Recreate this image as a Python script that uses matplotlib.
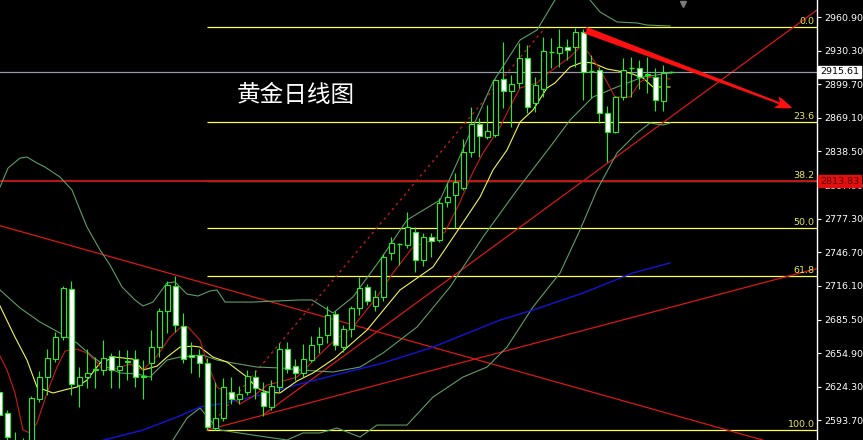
import matplotlib
matplotlib.use('Agg')
import matplotlib.pyplot as plt
import numpy as np

# ---- daily gold candles (index = bar number, prices)
opens = [2619.5, 2600.4, 2564.9, 2566.7, 2570.3, 2613.1, 2633.1, 2649.5, 2669.5, 2713.3,
         2625.8, 2633.1, 2639.5, 2639.5, 2652.2, 2639.5, 2646.8, 2649.5, 2633.1, 2645.9,
         2660.4, 2693.2, 2716.0, 2679.5, 2653.1, 2653.1, 2645.9, 2586.7, 2595.8, 2619.5,
         2613.1, 2619.5, 2633.1, 2619.5, 2605.8, 2624.0, 2658.6, 2643.1, 2636.8, 2648.6,
         2663.2, 2671.3, 2690.5, 2660.4, 2676.8, 2696.0, 2715.1, 2697.8, 2706.0, 2746.1,
         2754.3, 2753.3, 2765.2, 2739.7, 2760.6, 2757.9, 2792.5, 2798.8, 2805.2, 2838.0,
         2863.5, 2851.6, 2853.4, 2904.5, 2893.6, 2900.9, 2923.6, 2882.6, 2895.4, 2929.1,
         2928.2, 2933.6, 2933.6, 2947.3, 2911.8, 2912.7, 2873.5, 2856.2, 2888.1, 2914.5,
         2914.5, 2908.1, 2906.3, 2884.4, 2910.9]
highs = [2623.1, 2603.1, 2583.1, 2577.6, 2615.8, 2638.6, 2658.6, 2674.1, 2716.0, 2720.6,
         2642.2, 2658.6, 2651.3, 2666.8, 2655.0, 2657.7, 2657.7, 2657.7, 2648.6, 2675.9,
         2696.0, 2720.6, 2725.1, 2691.4, 2665.0, 2658.6, 2650.4, 2628.6, 2632.2, 2633.1,
         2624.9, 2639.5, 2639.5, 2628.6, 2630.4, 2664.1, 2665.0, 2649.5, 2663.2, 2670.4,
         2678.6, 2697.8, 2693.2, 2680.4, 2697.8, 2724.2, 2717.9, 2712.4, 2745.2, 2760.6,
         2755.2, 2783.4, 2769.7, 2764.3, 2764.3, 2796.1, 2809.8, 2818.9, 2849.8, 2879.0,
         2868.9, 2880.8, 2904.5, 2938.2, 2908.1, 2937.3, 2935.5, 2906.3, 2942.7, 2941.8,
         2950.0, 2940.9, 2950.9, 2950.0, 2926.3, 2915.4, 2879.9, 2889.0, 2923.6, 2924.5,
         2921.8, 2924.5, 2914.5, 2917.2, 2911.8]
lows = [2589.4, 2571.2, 2557.6, 2559.4, 2566.7, 2610.4, 2616.7, 2646.8, 2666.8, 2616.7,
        2605.8, 2623.1, 2623.1, 2634.9, 2623.1, 2623.1, 2630.4, 2624.0, 2613.1, 2630.4,
        2651.3, 2673.2, 2674.1, 2645.9, 2636.8, 2633.1, 2584.9, 2584.9, 2593.1, 2608.6,
        2608.6, 2616.7, 2613.1, 2597.6, 2603.1, 2619.5, 2636.8, 2630.4, 2633.1, 2646.8,
        2655.0, 2664.1, 2657.7, 2655.9, 2669.5, 2689.5, 2698.7, 2693.2, 2702.3, 2739.7,
        2735.1, 2750.6, 2728.8, 2734.2, 2742.4, 2756.1, 2787.9, 2768.8, 2803.4, 2833.4,
        2833.4, 2849.8, 2851.6, 2878.1, 2860.7, 2896.3, 2873.5, 2874.4, 2888.1, 2914.5,
        2915.4, 2921.8, 2915.4, 2885.4, 2887.2, 2864.4, 2828.9, 2855.3, 2885.4, 2888.1,
        2895.4, 2891.8, 2875.3, 2875.3, 2910.0]
closes = [2598.5, 2578.5, 2570.3, 2571.2, 2614.0, 2633.1, 2650.4, 2669.5, 2714.2, 2626.8,
          2633.1, 2636.8, 2640.4, 2650.4, 2639.5, 2643.1, 2647.7, 2633.1, 2634.0, 2660.4,
          2693.2, 2716.9, 2680.4, 2649.5, 2651.3, 2645.9, 2587.6, 2595.8, 2624.0, 2613.1,
          2617.7, 2634.0, 2623.1, 2606.7, 2624.9, 2658.6, 2640.4, 2636.8, 2649.5, 2662.2,
          2669.5, 2689.5, 2662.2, 2676.8, 2696.0, 2714.2, 2702.3, 2706.0, 2742.4, 2755.2,
          2754.3, 2769.7, 2739.7, 2760.6, 2757.0, 2791.6, 2797.0, 2810.7, 2838.0, 2863.5,
          2852.5, 2857.1, 2903.6, 2893.6, 2900.0, 2923.6, 2879.0, 2899.0, 2930.0, 2929.1,
          2933.6, 2930.9, 2947.3, 2910.9, 2911.8, 2873.5, 2856.2, 2888.1, 2912.7, 2914.5,
          2906.3, 2909.0, 2885.4, 2909.9, 2910.9]

# ---- indicator lines, sampled (bar index, price)
ma_red_x = [0.09, 0.96, 1.96, 2.96, 3.84, 4.71, 5.96, 7.21, 8.21, 9.71, 10.96, 11.96, 12.96, 14.46,
            16.34, 17.96, 19.71, 21.34, 22.84, 23.59, 25.09, 25.96, 27.21, 28.84, 30.09, 31.96,
            33.46, 35.46, 37.21, 39.71, 41.96, 44.21, 47.21, 49.21, 51.71, 54.21, 55.71, 57.59,
            59.21, 60.46, 62.59, 64.09, 65.09, 67.21, 68.46, 69.46, 71.34, 72.59, 73.46, 74.71,
            75.96, 76.96, 78.84, 80.09, 81.34, 83.84]
ma_red_y = [2652.2, 2639.5, 2618.6, 2584.9, 2582.2, 2591.3, 2618.6, 2642.2, 2656.8, 2658.6, 2655.0,
            2648.6, 2639.5, 2640.4, 2645.0, 2639.5, 2652.2, 2669.5, 2679.5, 2678.6, 2666.8, 2646.8,
            2624.0, 2616.7, 2608.6, 2616.7, 2625.8, 2629.5, 2633.1, 2651.3, 2666.8, 2678.6, 2706.0,
            2727.9, 2751.5, 2757.9, 2765.2, 2792.5, 2819.8, 2837.1, 2860.7, 2882.6, 2896.3, 2900.9,
            2909.0, 2914.5, 2924.5, 2933.6, 2930.0, 2917.2, 2901.8, 2888.1, 2888.1, 2901.8, 2906.3,
            2904.5]

ma_yel_x = [0.09, 1.96, 3.46, 4.71, 6.71, 8.59, 9.71, 10.96, 12.59, 14.46, 16.71, 17.96, 19.71,
            20.96, 22.59, 24.21, 25.09, 26.71, 28.46, 30.96, 32.21, 33.46, 35.09, 37.21, 39.21,
            41.96, 45.96, 50.09, 54.21, 57.59, 60.09, 61.71, 63.46, 65.09, 66.71, 68.46, 69.46,
            71.34, 72.96, 74.21, 75.96, 78.84, 80.46, 81.71, 83.84]
ma_yel_y = [2697.8, 2669.5, 2648.6, 2624.0, 2618.6, 2622.2, 2624.0, 2630.4, 2645.9, 2651.3, 2649.5,
            2639.5, 2643.1, 2651.3, 2660.4, 2661.3, 2660.4, 2651.3, 2646.8, 2633.1, 2623.1, 2619.5,
            2618.6, 2629.5, 2636.8, 2650.4, 2675.9, 2712.4, 2733.3, 2769.7, 2797.0, 2821.6, 2839.8,
            2865.3, 2876.2, 2896.3, 2900.9, 2915.4, 2919.9, 2919.0, 2913.6, 2909.9, 2905.4, 2897.2,
            2897.2]

bb_up_x = [0.09, 1.09, 2.59, 3.46, 4.71, 5.71, 7.59, 9.09, 10.09, 10.96, 12.59, 13.84, 15.34, 16.96,
           17.96, 19.21, 20.96, 21.96, 23.46, 24.84, 26.34, 27.21, 28.21, 31.71, 37.59, 39.09,
           41.71, 44.21, 47.59, 50.96, 55.09, 57.21, 58.46, 61.71, 65.09, 67.21, 69.46, 71.34,
           72.59, 73.84, 75.09, 77.21, 79.71, 80.96, 83.84]
bb_up_y = [2806.1, 2823.4, 2832.5, 2833.4, 2828.0, 2824.3, 2815.2, 2803.4, 2785.2, 2769.7, 2748.8,
           2735.1, 2715.1, 2703.3, 2697.8, 2701.4, 2718.8, 2719.7, 2708.7, 2706.9, 2711.5, 2712.4,
           2701.4, 2701.4, 2703.3, 2703.3, 2691.4, 2706.0, 2739.7, 2776.1, 2794.3, 2828.0, 2848.9,
           2901.8, 2940.0, 2949.1, 2976.4, 2990.0, 2987.3, 2976.4, 2965.5, 2956.4, 2955.5, 2953.6,
           2952.7]

bb_mid_x = [0.09, 2.59, 5.09, 7.59, 9.71, 11.71, 13.46, 15.09, 17.21, 18.84, 20.96, 22.59, 25.46,
            27.21, 29.21, 32.21, 35.46, 37.59, 41.71, 45.09, 47.96, 52.21, 56.34, 60.46, 64.71,
            68.84, 71.34, 74.21, 77.21, 80.46, 83.84]
bb_mid_y = [2712.4, 2696.0, 2683.2, 2673.2, 2664.1, 2651.3, 2642.2, 2636.8, 2635.9, 2633.1, 2648.6,
            2651.3, 2653.1, 2648.6, 2645.9, 2642.2, 2641.3, 2639.5, 2637.7, 2642.2, 2655.0, 2678.6,
            2715.1, 2760.6, 2803.4, 2842.6, 2867.1, 2888.1, 2897.2, 2906.3, 2909.9]

bb_low_x = [20.71, 21.71, 23.46, 25.09, 26.34, 27.59, 31.71, 35.96, 37.96, 40.09, 42.21, 45.09, 47.21,
            50.96, 54.21, 57.96, 60.96, 63.46, 66.71, 70.09, 72.59, 74.71, 77.21, 79.71, 81.34,
            82.96, 83.84]
bb_low_y = [2566.7, 2575.8, 2595.8, 2604.9, 2594.0, 2584.9, 2580.3, 2575.8, 2582.2, 2582.2, 2586.7,
            2578.5, 2589.4, 2589.4, 2614.9, 2633.1, 2642.2, 2660.4, 2696.9, 2727.9, 2767.0, 2803.4,
            2837.1, 2855.3, 2864.4, 2862.6, 2864.4]

ma_blue_x = [12.59, 18.0, 22.21, 25.09, 28.21, 32.59, 37.59, 41.96, 47.96, 54.21, 62.59, 66.71,
             72.96, 79.21, 83.84]
ma_blue_y = [2574.9, 2584.9, 2596.7, 2605.8, 2609.5, 2616.7, 2626.8, 2634.9, 2645.9, 2660.4, 2685.0,
             2694.1, 2709.6, 2727.9, 2737.0]

# ---- drawn objects
fib_labels = ['0.0', '23.6', '38.2', '50.0', '61.8', '100.0']
fib_prices = [2951.8, 2865.3, 2811.6, 2768.8, 2725.1, 2584.9]
fib_start = 25.96
hline_price, hline_label = 2811.6, '2813.83'
bid_price, bid_label = 2910.9, '2915.61'
trend_down = [(0.09, 2770.9), (90.09, 2586.7)]
trend_up_low = [(25.96, 2584.9), (102.21, 2731.9)]
trend_up_steep = [(32.96, 2598.5), (102.21, 2967.3)]
channel_dash = [(25.96, 2584.9), (68.2, 2950.9)]
arrow_pts = [(73.2, 2949.1), (99.1, 2878.1)]
price_ticks = [2960.90, 2930.30, 2899.70, 2869.10, 2838.50, 2807.90, 2777.30,
               2746.70, 2716.10, 2685.50, 2654.90, 2624.30, 2593.70]
title = '黄金日线图'

GREEN = '#22ee22'
RED = '#d81818'
YELLOW = '#ffff44'
BAND = '#5e9e66'

fig = plt.figure(figsize=(8.63, 4.40), dpi=100, facecolor='black')
ax = fig.add_axes([0, 0, 817 / 863, 1], facecolor='black')
ax.set_xlim(0.0875, 102.2125)
ax.set_ylim(2575.8, 2976.4)

# fib + horizontal lines
xmax = ax.get_xlim()[1]
ax.hlines(fib_prices, fib_start, xmax, color=YELLOW, lw=0.9, zorder=2)
for lab, p in zip(fib_labels, fib_prices):
    ax.text(0.997, p + 1.0, lab, transform=ax.get_yaxis_transform(), ha='right', va='bottom',
            color='#e8e84a', fontsize=6.8, zorder=9)
ax.axhline(hline_price, color='#c01414', lw=1.4, zorder=2.5)
ax.axhline(bid_price, color='#9898a8', lw=0.9, zorder=2.5)

# trend lines
ax.axline(trend_down[0], trend_down[1], color=RED, lw=0.9, zorder=2)
for seg in (trend_up_low, trend_up_steep):
    ax.plot([seg[0][0], seg[1][0]], [seg[0][1], seg[1][1]], color=RED, lw=0.9, zorder=2)
ax.plot([channel_dash[0][0], channel_dash[1][0]], [channel_dash[0][1], channel_dash[1][1]],
        color=RED, lw=0.9, ls=(0, (2, 3)), zorder=2)

# indicators
ax.plot(bb_up_x, bb_up_y, color=BAND, lw=0.8, zorder=3)
ax.plot(bb_mid_x, bb_mid_y, color=BAND, lw=0.8, zorder=3)
ax.plot(bb_low_x, bb_low_y, color=BAND, lw=0.8, zorder=3)
ax.plot(ma_blue_x, ma_blue_y, color='#1414d8', lw=1.0, zorder=3)
ax.plot(ma_yel_x, ma_yel_y, color='#f4f450', lw=0.8, zorder=3)
ax.plot(ma_red_x, ma_red_y, color='#cc1a1a', lw=0.8, zorder=3)

# candles
o = np.array(opens); c = np.array(closes)
h = np.array(highs); l = np.array(lows)
idx = np.arange(len(o))
ax.vlines(idx, l, h, color=GREEN, lw=0.8, zorder=5)
body = o != c
fill = np.where(c > o, 'black', 'white')
ax.bar(idx[body], np.abs(c - o)[body], bottom=np.minimum(o, c)[body], width=0.62,
       color=fill[body], edgecolor=GREEN, linewidth=0.8, zorder=6)
doji = ~body
ax.hlines(c[doji], idx[doji] - 0.31, idx[doji] + 0.31, color=GREEN, lw=1.0, zorder=6)

# arrow
ax.annotate('', xy=arrow_pts[1], xytext=arrow_pts[0],
            arrowprops=dict(arrowstyle='fancy,head_length=1.1,head_width=0.8,tail_width=0.45',
                            fc='#ff1010', ec='#ff1010', lw=0, mutation_scale=11,
                            shrinkA=0, shrinkB=0), zorder=8)

ax.text(0.29, 0.782, title, transform=ax.transAxes, fontsize=17, color='white',
        family=['Noto Sans CJK SC', 'DejaVu Sans'], va='center', ha='left', zorder=9)
ax.plot(0.836, 0.99, marker='v', color='#7a7a7a', ms=5, transform=ax.transAxes, clip_on=False)

# price scale
ax.yaxis.tick_right()
ax.set_yticks(price_ticks)
ax.set_yticklabels(['%.2f' % t for t in price_ticks])
ax.tick_params(axis='y', colors='white', length=3, width=0.8, pad=2, labelsize=6.8)
ax.set_xticks([])
for s in ('left', 'top', 'bottom'):
    ax.spines[s].set_visible(False)
ax.spines['right'].set_color('white')
ax.spines['right'].set_linewidth(1.0)

ax.text(1.004, bid_price, bid_label, transform=ax.get_yaxis_transform(), ha='left', va='center',
        fontsize=6.8, color='black', zorder=10, clip_on=False,
        bbox=dict(boxstyle='square,pad=0.2', fc='white', ec='white'))
ax.text(1.004, hline_price, hline_label, transform=ax.get_yaxis_transform(), ha='left',
        va='center', fontsize=6.8, color='#5a0000', zorder=10, clip_on=False,
        bbox=dict(boxstyle='square,pad=0.2', fc='#e01010', ec='#e01010'))

fig.savefig('out.png', dpi=100, facecolor='black')
